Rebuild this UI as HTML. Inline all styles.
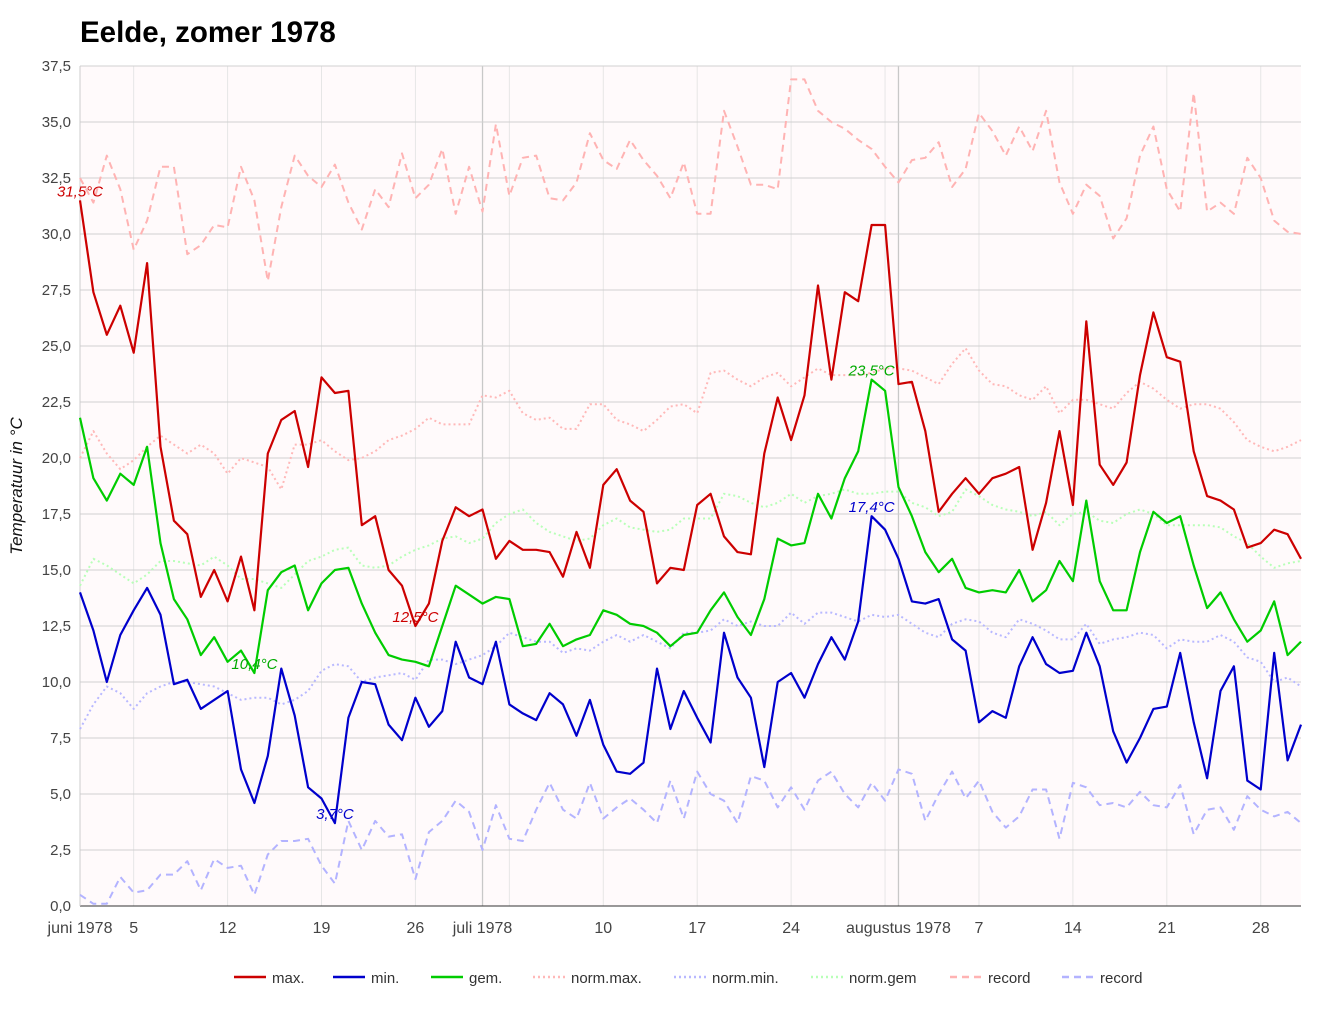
<!DOCTYPE html>
<html><head><meta charset="utf-8"><style>
body{margin:0;background:#fff;font-family:"Liberation Sans",Arial,sans-serif}
svg text{font-family:"Liberation Sans",Arial,sans-serif}
</style></head><body>
<svg id="c" width="1330" height="1009" xmlns="http://www.w3.org/2000/svg">
<text x="80" y="42" font-size="29.5" font-weight="bold" fill="#000">Eelde, zomer 1978</text>
<rect x="80" y="66" width="1221" height="840" fill="#fffafb"/>
<g id="grid"></g><g id="series"></g><g id="labels"></g>
<text transform="translate(22,486) rotate(-90)" text-anchor="middle" font-size="17" font-style="italic" fill="#111">Temperatuur in °C</text>
<g id="legend"></g>
</svg>
<script>
const maxT=[31.5,27.4,25.5,26.8,24.7,28.7,20.5,17.2,16.6,13.8,15.0,13.6,15.6,13.2,20.2,21.7,22.1,19.6,23.6,22.9,23.0,17.0,17.4,15.0,14.3,12.5,13.5,16.3,17.8,17.4,17.7,15.5,16.3,15.9,15.9,15.8,14.7,16.7,15.1,18.8,19.5,18.1,17.6,14.4,15.1,15.0,17.9,18.4,16.5,15.8,15.7,20.2,22.7,20.8,22.8,27.7,23.5,27.4,27.0,30.4,30.4,23.3,23.4,21.2,17.6,18.4,19.1,18.4,19.1,19.3,19.6,15.9,18.0,21.2,17.9,26.1,19.7,18.8,19.8,23.7,26.5,24.5,24.3,20.3,18.3,18.1,17.7,16.0,16.2,16.8,16.6,15.5];
const minT=[14.0,12.3,10.0,12.1,13.2,14.2,13.0,9.9,10.1,8.8,9.2,9.6,6.1,4.6,6.7,10.6,8.5,5.3,4.8,3.7,8.4,10.0,9.9,8.1,7.4,9.3,8.0,8.7,11.8,10.2,9.9,11.8,9.0,8.6,8.3,9.5,9.0,7.6,9.2,7.2,6.0,5.9,6.4,10.6,7.9,9.6,8.4,7.3,12.2,10.2,9.3,6.2,10.0,10.4,9.3,10.8,12.0,11.0,12.7,17.4,16.8,15.5,13.6,13.5,13.7,11.9,11.4,8.2,8.7,8.4,10.7,12.0,10.8,10.4,10.5,12.2,10.7,7.8,6.4,7.5,8.8,8.9,11.3,8.2,5.7,9.6,10.7,5.6,5.2,11.3,6.5,8.1];
const gemT=[21.8,19.1,18.1,19.3,18.8,20.5,16.2,13.7,12.8,11.2,12.0,10.9,11.4,10.4,14.1,14.9,15.2,13.2,14.4,15.0,15.1,13.5,12.2,11.2,11.0,10.9,10.7,12.5,14.3,13.9,13.5,13.8,13.7,11.6,11.7,12.6,11.6,11.9,12.1,13.2,13.0,12.6,12.5,12.2,11.6,12.1,12.2,13.2,14.0,12.9,12.1,13.7,16.4,16.1,16.2,18.4,17.3,19.1,20.3,23.5,23.0,18.7,17.4,15.8,14.9,15.5,14.2,14.0,14.1,14.0,15.0,13.6,14.1,15.4,14.5,18.1,14.5,13.2,13.2,15.8,17.6,17.1,17.4,15.2,13.3,14.0,12.8,11.8,12.3,13.6,11.2,11.8];
const normMax=[20.0,21.2,20.2,19.5,19.9,20.5,21.0,20.6,20.2,20.6,20.2,19.3,20.0,19.8,19.6,18.6,20.6,20.6,20.8,20.3,19.9,20.0,20.3,20.8,21.0,21.3,21.8,21.5,21.5,21.5,22.8,22.7,23.0,22.0,21.7,21.8,21.3,21.3,22.4,22.4,21.7,21.5,21.2,21.7,22.3,22.4,22.0,23.8,23.9,23.5,23.2,23.6,23.8,23.2,23.6,24.0,23.7,23.7,23.7,23.8,24.0,24.0,23.9,23.6,23.3,24.2,24.9,23.9,23.3,23.2,22.8,22.6,23.2,22.0,22.6,22.6,22.4,22.2,22.9,23.4,23.1,22.6,22.2,22.4,22.4,22.2,21.6,20.8,20.5,20.3,20.5,20.8];
const normMin=[7.9,9.0,9.8,9.5,8.8,9.5,9.8,10.0,10.0,9.9,9.8,9.5,9.2,9.3,9.3,9.0,9.2,9.6,10.5,10.8,10.7,10.0,10.2,10.3,10.4,10.1,11.0,11.0,10.8,11.0,11.2,11.6,12.2,12.0,11.8,11.8,11.3,11.5,11.4,11.8,12.1,11.8,12.1,11.8,11.5,12.2,12.2,12.3,12.8,12.5,12.7,12.5,12.5,13.1,12.6,13.1,13.1,12.9,12.7,13.0,12.9,13.0,12.6,12.2,12.0,12.6,12.8,12.7,12.2,12.0,12.8,12.6,12.3,11.9,11.9,12.6,11.7,11.9,12.0,12.2,12.1,11.5,11.9,11.8,11.8,12.1,11.8,11.1,10.9,10.0,10.2,9.8];
const normGem=[14.3,15.5,15.2,14.8,14.4,14.8,15.4,15.4,15.3,15.2,15.6,15.2,14.6,14.6,14.4,14.2,14.8,15.4,15.6,15.9,16.0,15.2,15.1,15.2,15.6,15.9,16.1,16.4,16.5,16.2,16.4,17.1,17.5,17.7,17.1,16.7,16.5,16.3,16.4,17.0,17.3,16.9,16.8,16.7,16.8,17.3,17.3,17.3,18.4,18.3,18.0,17.8,18.0,18.4,18.0,18.3,18.4,18.6,18.4,18.4,18.5,18.5,18.0,17.8,17.4,17.6,18.6,18.3,17.9,17.7,17.6,17.4,17.6,17.0,17.5,17.6,17.2,17.1,17.5,17.7,17.5,17.0,17.0,17.0,17.0,16.9,16.5,16.2,15.6,15.1,15.3,15.4];
const recMax=[32.5,31.4,33.5,32.0,29.3,30.6,33.0,33.0,29.1,29.5,30.4,30.3,33.0,31.5,27.9,31.2,33.5,32.6,32.1,33.1,31.4,30.2,32.0,31.2,33.6,31.6,32.2,33.8,30.9,33.0,31.0,34.9,31.7,33.4,33.5,31.6,31.5,32.3,34.5,33.3,32.9,34.2,33.3,32.6,31.6,33.2,30.9,30.9,35.5,33.9,32.2,32.2,32.0,36.9,36.9,35.5,35.0,34.7,34.2,33.8,33.0,32.3,33.3,33.4,34.1,32.1,32.9,35.4,34.6,33.5,34.8,33.7,35.5,32.3,30.9,32.2,31.7,29.8,30.7,33.5,34.8,32.0,31.0,36.3,31.0,31.4,30.9,33.4,32.5,30.6,30.1,30.0];
const recMin=[0.5,0.1,0.1,1.3,0.6,0.7,1.4,1.4,2.0,0.7,2.1,1.7,1.8,0.5,2.3,2.9,2.9,3.0,1.8,1.0,3.8,2.5,3.8,3.1,3.2,1.2,3.3,3.8,4.7,4.2,2.5,4.5,3.0,2.9,4.3,5.5,4.3,3.9,5.5,3.9,4.4,4.8,4.3,3.7,5.6,3.9,6.0,5.0,4.7,3.7,5.8,5.6,4.4,5.3,4.3,5.6,6.0,5.0,4.4,5.5,4.7,6.1,5.9,3.8,5.0,6.0,4.8,5.6,4.2,3.5,4.0,5.2,5.2,3.0,5.5,5.3,4.5,4.6,4.4,5.1,4.5,4.4,5.4,3.2,4.3,4.4,3.4,4.9,4.3,4.0,4.2,3.7];
const yTicks=[0,2.5,5,7.5,10,12.5,15,17.5,20,22.5,25,27.5,30,32.5,35,37.5];
const xTickDays=[0,4,11,18,25,30,39,46,53,61,67,74,81,88];
const xTickLabels=["juni 1978","5","12","19","26","juli 1978","10","17","24","augustus 1978","7","14","21","28"];
const weekDays=[4,11,18,25,32,39,46,53,60,67,74,81,88];
const monthDays=[30,61];
const NS="http://www.w3.org/2000/svg";
const X0=80,X1=1301,Y0=906,Y1=66,ND=92;
const xs=d=>X0+(X1-X0)*d/(ND-1);
const ys=v=>Y0-(Y0-Y1)*v/37.5;
function mk(tag,attrs,parent){const e=document.createElementNS(NS,tag);for(const k in attrs)e.setAttribute(k,attrs[k]);parent.appendChild(e);return e;}
const grid=document.getElementById('grid');
weekDays.forEach(d=>{const l=mk('line',{x1:xs(d),x2:xs(d),y1:Y1,y2:Y0,stroke:'#e6e6e6','stroke-width':1},grid);

});
monthDays.forEach(d=>{const l=mk('line',{x1:xs(d),x2:xs(d),y1:Y1,y2:Y0,stroke:'#c8c8c8','stroke-width':1.3},grid);

});
yTicks.forEach(v=>{const l=mk('line',{x1:X0,x2:X1,y1:ys(v),y2:ys(v),stroke:v===0?'#333':'#d0d0d0','stroke-width':1},grid);


const t=mk('text',{x:71,y:ys(v)+5,'text-anchor':'end','font-size':15,fill:'#444'},grid);t.textContent=v.toFixed(1).replace('.',',');

});
mk('line',{x1:X0,x2:X0,y1:Y1,y2:Y0,stroke:'#ccc'},grid);
xTickDays.forEach((d,i)=>{const t=mk('text',{x:xs(d),y:933,'text-anchor':'middle','font-size':16,fill:'#444'},grid);t.textContent=xTickLabels[i];

});
const S=document.getElementById('series');
function line(data,color,dash,w,name){const p=data.map((v,i)=>(i?'L':'M')+xs(i).toFixed(1)+' '+ys(v).toFixed(1)).join(' ');
const e=mk('path',{d:p,fill:'none',stroke:color,'stroke-width':w,'stroke-dasharray':dash,'stroke-linejoin':'round'},S);

}
line(recMax,'#ffb3b3','7,5',2,'record-max-line');
line(recMin,'#b3b3ff','7,5',2,'record-min-line');
line(normMax,'#ffb8b8','2,3',2,'norm-max-line');
line(normMin,'#b8b8ff','2,3',2,'norm-min-line');
line(normGem,'#b8ffb8','2,3',2,'norm-gem-line');
line(maxT,'#cc0000','',2.2,'max-line');
line(minT,'#0000cc','',2.2,'min-line');
line(gemT,'#00cc00','',2.2,'gem-line');
const L=document.getElementById('labels');
function lab(data,d,color,dx){const v=data[d];const t=mk('text',{x:xs(d)+dx,y:ys(v)-4,'text-anchor':'middle','font-size':15,'font-style':'italic',fill:color},L);t.textContent=v.toFixed(1).replace('.',',')+'°C';

}
lab(maxT,0,'#cc0000',0);lab(maxT,25,'#cc0000',0);lab(gemT,13,'#00aa00',0);lab(minT,19,'#0000cc',0);lab(gemT,59,'#00aa00',0);lab(minT,59,'#0000cc',0);
const LG=document.getElementById('legend');
const legItems=[['max.','#cc0000',''],['min.','#0000cc',''],['gem.','#00cc00',''],['norm.max.','#ffb8b8','2,3'],['norm.min.','#b8b8ff','2,3'],['norm.gem','#b8ffb8','2,3'],['record','#ffb3b3','7,5'],['record','#b3b3ff','7,5']];
const legX=[234,333,431,533,674,811,950,1062];
legItems.forEach((it,i)=>{const g=mk('g',{},LG);


mk('line',{x1:legX[i],x2:legX[i]+32,y1:977,y2:977,stroke:it[1],'stroke-width':2.5,'stroke-dasharray':it[2]},g);
const t=mk('text',{x:legX[i]+38,y:983,'font-size':15,fill:'#333'},g);t.textContent=it[0];});
</script>
</body></html>
